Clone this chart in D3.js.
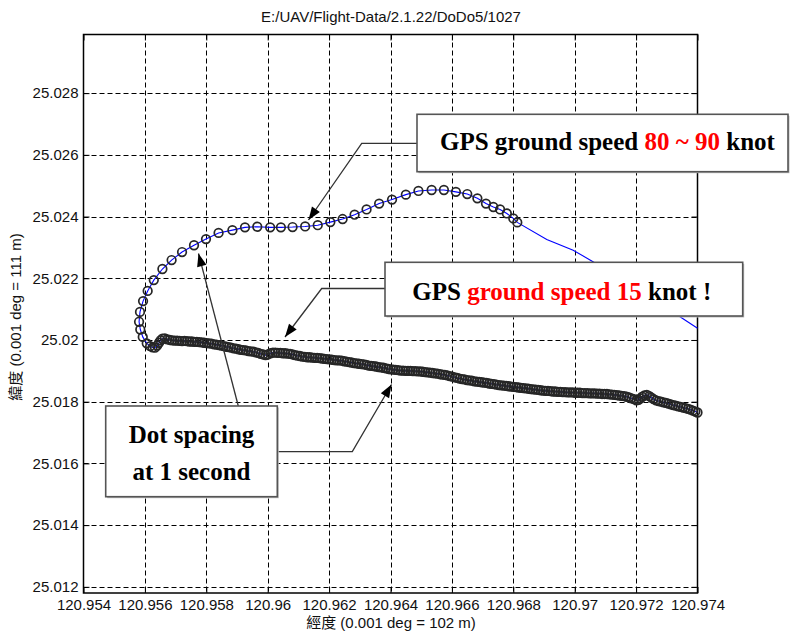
<!DOCTYPE html>
<html><head><meta charset="utf-8">
<script src="https://cdn.jsdelivr.net/npm/d3@7"></script>
<style>body{margin:0;background:#fff}svg{display:block}</style>
</head><body>
<svg id="c" width="790" height="633"></svg>
<script>
const chartTitle = "E:/UAV/Flight-Data/2.1.22/DoDo5/1027";
const xLabel = "經度 (0.001 deg = 102 m)";
const yLabel = "緯度 (0.001 deg = 111 m)";
const xTicks = [120.954,120.956,120.958,120.96,120.962,120.964,120.966,120.968,120.97,120.972,120.974];
const xTickLabels = ["120.954","120.956","120.958","120.96","120.962","120.964","120.966","120.968","120.97","120.972","120.974"];
const yTicks = [25.012,25.014,25.016,25.018,25.02,25.022,25.024,25.026,25.028];
const yTickLabels = ["25.012","25.014","25.016","25.018","25.02","25.022","25.024","25.026","25.028"];

// approach segment: line only, no markers
const tailLon = [120.97400,120.97343,120.97190,120.97061,120.96995,120.96909];
const tailLat = [25.02038,25.02075,25.02168,25.02253,25.02291,25.02326];

// fast segment (80~90 knot), one fix per second
const fastLon = [120.96813,120.96800,120.96779,120.96757,120.96735,120.96711,120.96683,120.96650,120.96613,120.96574,
  120.96534,120.96491,120.96450,120.96405,120.96363,120.96322,120.96283,120.96244,120.96204,120.96163,
  120.96122,120.96081,120.96043,120.96008,120.95966,120.95926,120.95885,120.95840,120.95799,120.95760,
  120.95721,120.95687,120.95657,120.95629,120.95609,120.95594,120.95584,120.95581,120.95585,120.95593,120.95606];
const fastLat = [25.02381,25.02394,25.02410,25.02423,25.02431,25.02442,25.02459,25.02473,25.02480,25.02486,
  25.02486,25.02483,25.02471,25.02455,25.02442,25.02423,25.02406,25.02392,25.02382,25.02372,
  25.02368,25.02366,25.02365,25.02365,25.02367,25.02365,25.02356,25.02347,25.02327,25.02307,
  25.02285,25.02259,25.02230,25.02194,25.02159,25.02126,25.02091,25.02059,25.02034,25.02010,25.01989];

// slow segment (15 knot), one fix per second
const slowLon = [120.95617,120.95625,120.95633,120.95640,120.95646,120.95651,120.95657,120.95665,120.95673,120.95681,
  120.95689,120.95697,120.95705,120.95713,120.95721,120.95729,120.95737,120.95745,120.95753,120.95761,
  120.95769,120.95777,120.95785,120.95793,120.95801,120.95809,120.95817,120.95825,120.95833,120.95841,
  120.95849,120.95857,120.95865,120.95873,120.95881,120.95889,120.95897,120.95905,120.95913,120.95921,
  120.95929,120.95937,120.95945,120.95953,120.95961,120.95969,120.95977,120.95985,120.95993,120.96001,
  120.96009,120.96017,120.96025,120.96033,120.96041,120.96049,120.96057,120.96065,120.96073,120.96081,
  120.96089,120.96097,120.96105,120.96113,120.96121,120.96129,120.96137,120.96145,120.96153,120.96161,
  120.96169,120.96177,120.96185,120.96193,120.96201,120.96209,120.96217,120.96225,120.96233,120.96241,
  120.96249,120.96257,120.96265,120.96273,120.96281,120.96289,120.96297,120.96305,120.96313,120.96321,
  120.96329,120.96337,120.96345,120.96353,120.96361,120.96369,120.96377,120.96385,120.96393,120.96401,
  120.96409,120.96417,120.96425,120.96433,120.96441,120.96449,120.96457,120.96465,120.96473,120.96481,
  120.96489,120.96497,120.96505,120.96513,120.96521,120.96529,120.96537,120.96545,120.96553,120.96561,
  120.96569,120.96577,120.96585,120.96593,120.96601,120.96609,120.96617,120.96625,120.96633,120.96641,
  120.96649,120.96657,120.96665,120.96673,120.96681,120.96689,120.96697,120.96705,120.96713,120.96721,
  120.96729,120.96737,120.96745,120.96753,120.96761,120.96769,120.96777,120.96785,120.96793,120.96801,
  120.96809,120.96817,120.96825,120.96833,120.96841,120.96849,120.96857,120.96865,120.96873,120.96881,
  120.96889,120.96897,120.96905,120.96913,120.96921,120.96929,120.96937,120.96945,120.96953,120.96961,
  120.96969,120.96977,120.96985,120.96993,120.97001,120.97009,120.97017,120.97025,120.97033,120.97041,
  120.97049,120.97057,120.97065,120.97073,120.97081,120.97089,120.97097,120.97105,120.97113,120.97121,
  120.97129,120.97137,120.97145,120.97153,120.97161,120.97169,120.97177,120.97185,120.97193,120.97201,
  120.97208,120.97214,120.97220,120.97227,120.97235,120.97243,120.97250,120.97257,120.97265,120.97273,
  120.97281,120.97289,120.97297,120.97305,120.97313,120.97321,120.97329,120.97337,120.97345,120.97353,
  120.97361,120.97369,120.97377,120.97385,120.97393,120.97400];
const slowLat = [25.01980,25.01976,25.01975,25.01982,25.01991,25.01999,25.02004,25.02005,25.02002,25.02000,
  25.01999,25.01998,25.01998,25.01997,25.01996,25.01997,25.01996,25.01995,25.01995,25.01994,
  25.01994,25.01993,25.01992,25.01991,25.01990,25.01989,25.01988,25.01986,25.01985,25.01983,
  25.01982,25.01980,25.01978,25.01977,25.01975,25.01973,25.01972,25.01970,25.01968,25.01967,
  25.01966,25.01964,25.01963,25.01962,25.01960,25.01958,25.01955,25.01953,25.01951,25.01953,
  25.01957,25.01959,25.01959,25.01958,25.01958,25.01957,25.01957,25.01956,25.01955,25.01953,
  25.01951,25.01949,25.01948,25.01946,25.01945,25.01944,25.01944,25.01943,25.01942,25.01942,
  25.01941,25.01940,25.01939,25.01938,25.01937,25.01936,25.01935,25.01934,25.01934,25.01933,
  25.01931,25.01930,25.01928,25.01927,25.01925,25.01924,25.01923,25.01922,25.01921,25.01919,
  25.01917,25.01916,25.01915,25.01914,25.01912,25.01911,25.01910,25.01908,25.01906,25.01905,
  25.01904,25.01903,25.01902,25.01901,25.01901,25.01900,25.01900,25.01900,25.01899,25.01899,
  25.01898,25.01898,25.01897,25.01896,25.01895,25.01894,25.01893,25.01892,25.01891,25.01889,
  25.01888,25.01887,25.01885,25.01883,25.01881,25.01879,25.01877,25.01875,25.01873,25.01872,
  25.01870,25.01869,25.01868,25.01866,25.01865,25.01864,25.01863,25.01862,25.01861,25.01859,
  25.01858,25.01857,25.01855,25.01854,25.01853,25.01852,25.01851,25.01850,25.01849,25.01848,
  25.01847,25.01846,25.01845,25.01844,25.01843,25.01842,25.01841,25.01840,25.01839,25.01838,
  25.01837,25.01836,25.01835,25.01835,25.01834,25.01833,25.01833,25.01832,25.01832,25.01831,
  25.01831,25.01830,25.01830,25.01830,25.01829,25.01829,25.01829,25.01828,25.01828,25.01828,
  25.01827,25.01827,25.01827,25.01826,25.01826,25.01825,25.01825,25.01825,25.01824,25.01823,
  25.01822,25.01821,25.01820,25.01819,25.01818,25.01816,25.01814,25.01811,25.01808,25.01804,
  25.01806,25.01811,25.01816,25.01820,25.01822,25.01818,25.01813,25.01808,25.01804,25.01802,
  25.01800,25.01798,25.01796,25.01794,25.01791,25.01789,25.01787,25.01785,25.01783,25.01781,
  25.01779,25.01777,25.01774,25.01771,25.01768,25.01765];

const svg = d3.select("#c");
const L = 83.5, R = 697.5, T = 34.5, B = 593;
const x = d3.scaleLinear().domain([120.954, 120.974]).range([L, R]);
const y = d3.scaleLinear().domain([25.0118, 25.0299]).range([B, T]);

svg.append("rect").attr("width", 790).attr("height", 633).attr("fill", "#fff");

const sans = "'Liberation Sans', Arial, 'Noto Sans CJK TC', sans-serif";
const serif = "'Liberation Serif', 'Times New Roman', serif";

// grid
const grid = svg.append("g").attr("stroke", "#000").attr("stroke-width", 1).attr("stroke-dasharray", "5,3");
grid.selectAll("line.gx").data(xTicks.slice(1, -1)).join("line")
  .attr("x1", d => Math.round(x(d)) + 0.5).attr("x2", d => Math.round(x(d)) + 0.5).attr("y1", T).attr("y2", B);
grid.selectAll("line.gy").data(yTicks).join("line")
  .attr("y1", d => Math.round(y(d)) + 0.5).attr("y2", d => Math.round(y(d)) + 0.5).attr("x1", L).attr("x2", R);

// axes
function styleAxis(g) {
  g.selectAll(".domain").remove();
  g.selectAll(".tick line").attr("stroke", "#000").attr("stroke-width", 1);
  g.selectAll("text").attr("font-family", sans).attr("font-size", 15).attr("fill", "#111");
}
svg.append("g").attr("transform", `translate(0,${B})`)
  .call(d3.axisBottom(x).tickValues(xTicks).tickFormat((d, i) => xTickLabels[i]).tickSize(-6).tickPadding(6))
  .call(styleAxis);
svg.append("g").attr("transform", `translate(0,${T})`)
  .call(d3.axisTop(x).tickValues(xTicks).tickFormat("").tickSize(-6)).call(styleAxis);
svg.append("g").attr("transform", `translate(${L},0)`)
  .call(d3.axisLeft(y).tickValues(yTicks).tickFormat((d, i) => yTickLabels[i]).tickSize(-6).tickPadding(5))
  .call(styleAxis);
svg.append("g").attr("transform", `translate(${R},0)`)
  .call(d3.axisRight(y).tickValues(yTicks).tickFormat("").tickSize(-6)).call(styleAxis);
svg.append("rect").attr("x", L).attr("y", T).attr("width", R - L).attr("height", B - T)
  .attr("fill", "none").attr("stroke", "#000").attr("stroke-width", 1.5);

// track
const lonAll = tailLon.concat(fastLon, slowLon);
const latAll = tailLat.concat(fastLat, slowLat);
const pts = lonAll.map((v, i) => [v, latAll[i]]);
const line = d3.line().x(d => x(d[0])).y(d => y(d[1]));
const plot = svg.append("g");
plot.append("path").attr("d", line(pts)).attr("fill", "none").attr("stroke", "#0000ff").attr("stroke-width", 1.1);
const dots = fastLon.map((v, i) => [v, fastLat[i]]).concat(slowLon.map((v, i) => [v, slowLat[i]]));
plot.selectAll("circle").data(dots).join("circle")
  .attr("cx", d => x(d[0])).attr("cy", d => y(d[1])).attr("r", 4.3)
  .attr("fill", "none").attr("stroke", "#262626").attr("stroke-width", 1.7);

// title and labels
svg.append("text").attr("x", 391).attr("y", 22).attr("text-anchor", "middle")
  .attr("font-family", sans).attr("font-size", 15).attr("fill", "#111").text(chartTitle);
svg.append("text").attr("x", 391).attr("y", 628).attr("text-anchor", "middle")
  .attr("font-family", sans).attr("font-size", 15).attr("fill", "#111").text(xLabel);
svg.append("text").attr("transform", "translate(21,317) rotate(-90)").attr("text-anchor", "middle")
  .attr("font-family", sans).attr("font-size", 15).attr("fill", "#111").text(yLabel);

// annotations
const ann = svg.append("g");
function arrow(p) {
  ann.append("polyline").attr("points", p.map(q => q.join(",")).join(" "))
    .attr("fill", "none").attr("stroke", "#333").attr("stroke-width", 1.3);
  const [x1, y1] = p[p.length - 2], [x2, y2] = p[p.length - 1];
  const a = Math.atan2(y2 - y1, x2 - x1), len = 13, w = 4.8;
  const bx = x2 - len * Math.cos(a), by = y2 - len * Math.sin(a);
  const nx = -Math.sin(a) * w, ny = Math.cos(a) * w;
  ann.append("polygon").attr("points", `${x2},${y2} ${bx + nx},${by + ny} ${bx - nx},${by - ny}`).attr("fill", "#000");
}
function box(x0, y0, w, h) {
  ann.append("rect").attr("x", x0 + 1.5).attr("y", y0 + 1.5).attr("width", w).attr("height", h).attr("fill", "#bbb");
  ann.append("rect").attr("x", x0).attr("y", y0).attr("width", w).attr("height", h)
    .attr("fill", "#fff").attr("stroke", "#555").attr("stroke-width", 1.6);
}
function rich(xp, yp, parts, anchor) {
  const t = ann.append("text").attr("x", xp).attr("y", yp).attr("text-anchor", anchor || "start")
    .attr("font-family", serif).attr("font-size", 25).attr("font-weight", "bold").style("white-space", "pre");
  parts.forEach(p => t.append("tspan").attr("fill", p[1]).text(p[0]));
}
arrow([[417, 143.3], [361.7, 143.3], [308.5, 220]]);
arrow([[385, 288.5], [321.7, 288.5], [285, 337]]);
arrow([[238.3, 406], [198.5, 253.5]]);
arrow([[277, 451.7], [352.3, 451.7], [391.5, 384.5]]);
box(417, 114.3, 371, 57.4);
box(385, 262.3, 357.7, 53.7);
box(105.7, 406, 171.6, 90.7);
rich(440, 150, [["GPS ground speed ", "#000"], ["80 ~ 90", "#f00"], [" knot", "#000"]]);
rich(412.3, 299.5, [["GPS ", "#000"], ["ground speed 15", "#f00"], [" knot !", "#000"]]);
rich(191.5, 443.3, [["Dot spacing", "#000"]], "middle");
rich(191.5, 480, [["at 1 second", "#000"]], "middle");
</script>
</body></html>
